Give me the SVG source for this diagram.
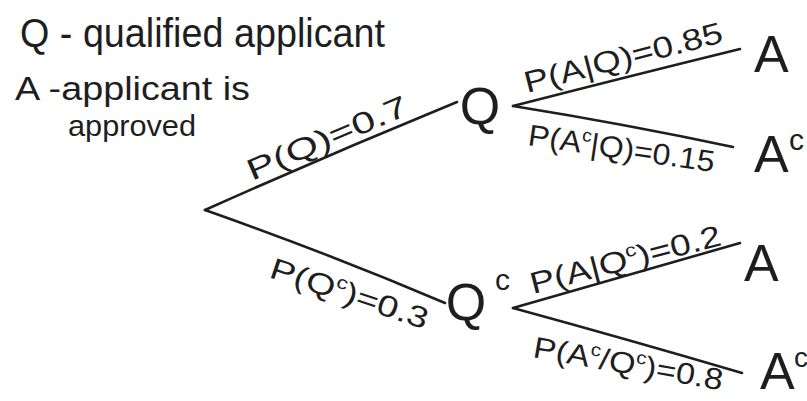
<svg xmlns="http://www.w3.org/2000/svg" width="807" height="401" viewBox="0 0 807 401">
<style>
.t{font-family:"Liberation Sans","DejaVu Sans",sans-serif;fill:#1e1e1e;}
.n{font-family:"Liberation Sans","DejaVu Sans",sans-serif;fill:#1e1e1e;font-size:52px;}
.e{fill:none;stroke:#1e1e1e;stroke-width:2.6;stroke-linecap:round;}
.l{font-family:"Liberation Sans","DejaVu Sans",sans-serif;fill:#1e1e1e;font-size:30px;}
</style>
<rect width="807" height="401" fill="#ffffff"/>
<g id="legend">
<text class="t" x="20" y="47" font-size="40" textLength="365" lengthAdjust="spacingAndGlyphs">Q - qualified applicant</text>
<text class="t" x="15" y="100" font-size="34" textLength="235" lengthAdjust="spacingAndGlyphs">A -applicant is</text>
<text class="t" x="68" y="136" font-size="30" textLength="128" lengthAdjust="spacingAndGlyphs">approved</text>
</g>
<g id="connectors">
<path class="e" d="M205,210 Q330,154 457,102"/>
<path class="e" d="M205,210 Q330,254 445,303"/>
<path class="e" d="M513,106 Q630,76 740,49"/>
<path class="e" d="M513,106 Q625,124 733,147"/>
<path class="e" d="M513,308 Q630,274 740,243"/>
<path class="e" d="M513,308 Q630,340 742,373"/>
</g>
<g id="edge-labels">
<text class="l" transform="translate(252,181) rotate(-23)" textLength="172" lengthAdjust="spacingAndGlyphs">P(Q)=0.7</text>
<text class="l" transform="translate(527,93) rotate(-14.5)" textLength="204" lengthAdjust="spacingAndGlyphs">P(A|Q)=0.85</text>
<text class="l" transform="translate(527,145) rotate(8.3)" textLength="188" lengthAdjust="spacingAndGlyphs">P(A<tspan font-size="18" dy="-12">c</tspan><tspan dy="12">|Q)=0.15</tspan></text>
<text class="l" transform="translate(268,277) rotate(18.5)" textLength="165" lengthAdjust="spacingAndGlyphs">P(Q<tspan font-size="18" dy="-12">c</tspan><tspan dy="12">)=0.3</tspan></text>
<text class="l" transform="translate(533,294) rotate(-14.5)" textLength="196" lengthAdjust="spacingAndGlyphs">P(A|Q<tspan font-size="18" dy="-12">c</tspan><tspan dy="12">)=0.2</tspan></text>
<text class="l" transform="translate(532,357) rotate(10)" textLength="192" lengthAdjust="spacingAndGlyphs">P(A<tspan font-size="18" dy="-12">c</tspan><tspan dy="12">/Q</tspan><tspan font-size="18" dy="-12">c</tspan><tspan dy="12">)=0.8</tspan></text>
</g>
<g id="node-Q"><text class="n" x="480" y="124" text-anchor="middle">Q</text></g>
<g id="node-Qc"><text class="n" x="466" y="320" text-anchor="middle">Q</text><text class="t" x="495" y="290" font-size="30">c</text></g>
<g id="node-A-Q"><text class="n" x="754" y="72">A</text></g>
<g id="node-Ac-Q"><text class="n" x="754" y="172">A</text><text class="t" x="789" y="150" font-size="30">c</text></g>
<g id="node-A-Qc"><text class="n" x="744" y="281">A</text></g>
<g id="node-Ac-Qc"><text class="n" x="760" y="389">A</text><text class="t" x="794" y="367" font-size="28">c</text></g>
</svg>
